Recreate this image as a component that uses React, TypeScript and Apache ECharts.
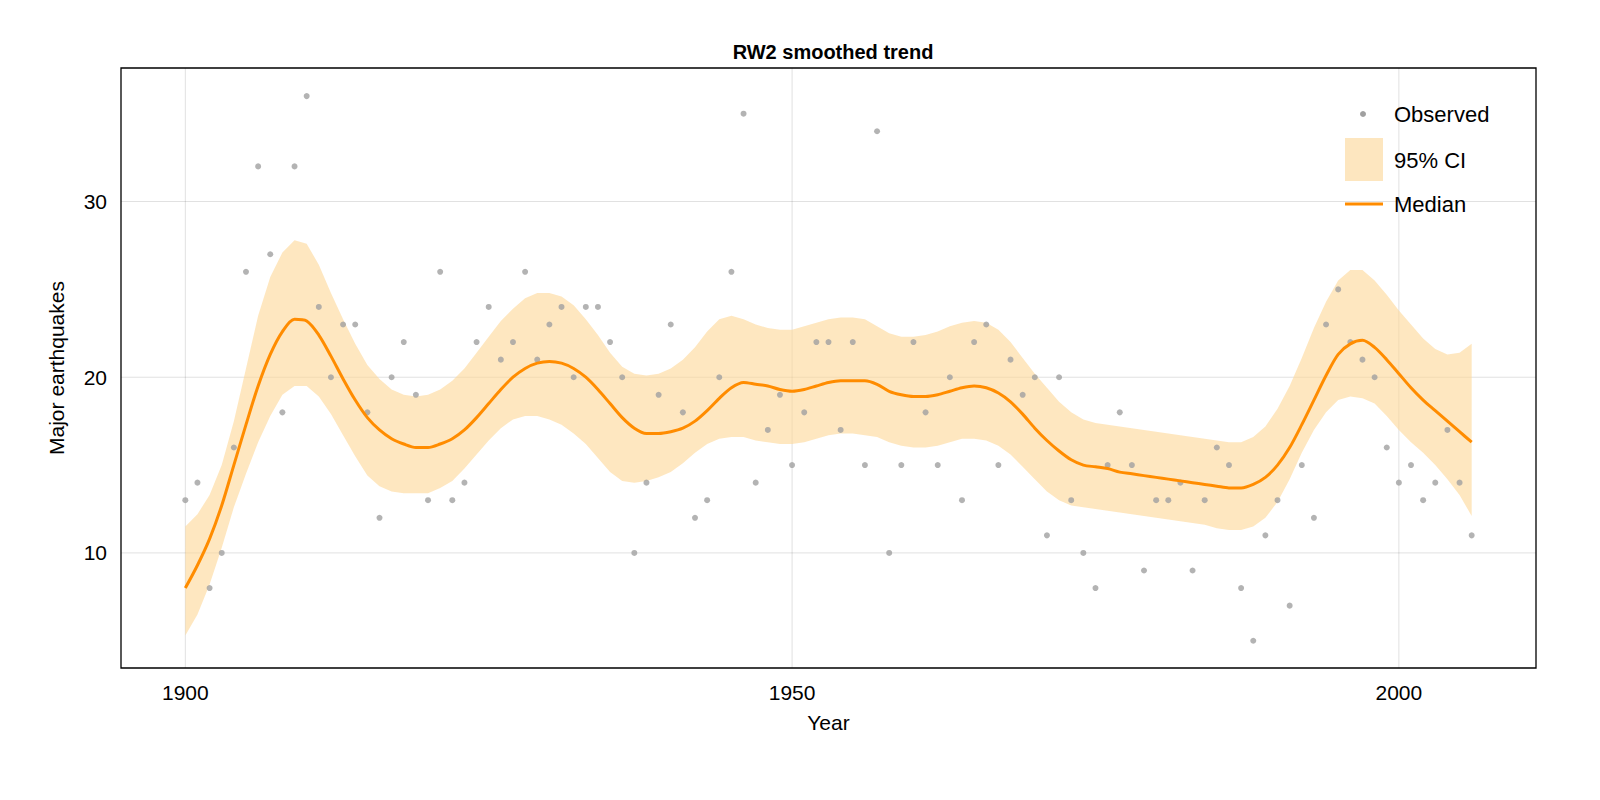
import React, { useEffect, useRef } from "react";
import * as echarts from "echarts";

const years: number[] = [];
for (let y = 1900; y <= 2006; y++) years.push(y);

const observed = [13,14,8,10,16,26,32,27,18,32,36,24,20,23,23,18,12,20,22,19,13,26,13,14,22,24,21,22,26,21,23,24,20,24,24,22,20,10,14,19,23,18,12,13,20,26,35,14,17,19,15,18,22,22,17,22,15,34,10,15,22,18,15,20,13,22,23,15,21,19,20,11,20,13,10,8,15,18,15,9,13,13,14,9,13,16,15,8,5,11,13,7,15,12,23,25,22,21,20,16,14,15,13,14,17,14,11];

const median = [8,9.3,10.8,12.7,15,17.3,19.5,21.3,22.6,23.3,23.2,22.4,21.2,19.9,18.7,17.7,17,16.5,16.2,16.0,16.0,16.2,16.5,17,17.7,18.5,19.3,20,20.5,20.8,20.9,20.8,20.5,20,19.3,18.5,17.7,17.1,16.8,16.8,16.9,17.1,17.5,18.1,18.8,19.4,19.7,19.6,19.5,19.3,19.2,19.3,19.5,19.7,19.8,19.8,19.8,19.6,19.2,19.0,18.9,18.9,19.0,19.2,19.4,19.5,19.4,19.1,18.6,17.9,17.1,16.4,15.8,15.3,15.0,14.9,14.8,14.6,14.5,14.4,14.3,14.2,14.1,14.0,13.9,13.8,13.7,13.7,13.9,14.3,15.0,16,17.3,18.7,20.1,21.3,21.9,22.1,21.7,21.0,20.2,19.4,18.7,18.1,17.5,16.9,16.3];

const upper = [11.5,12.2,13.3,15,17.5,20.5,23.5,25.7,27.1,27.8,27.6,26.4,24.8,23.3,21.9,20.7,19.9,19.3,19.0,18.9,19.0,19.3,19.8,20.5,21.4,22.3,23.2,23.9,24.5,24.8,24.8,24.6,24.1,23.3,22.4,21.4,20.6,20.2,20.1,20.2,20.5,21.0,21.7,22.6,23.3,23.5,23.3,23.0,22.8,22.7,22.7,22.9,23.1,23.3,23.4,23.4,23.3,22.9,22.5,22.3,22.3,22.4,22.6,22.9,23.1,23.2,23.1,22.7,22.0,21.1,20.2,19.4,18.6,18.0,17.6,17.4,17.3,17.2,17.1,17.0,16.9,16.8,16.7,16.6,16.5,16.4,16.3,16.3,16.6,17.2,18.2,19.5,21.1,22.8,24.3,25.5,26.1,26.1,25.5,24.7,23.8,23.0,22.2,21.6,21.3,21.4,21.9];

const lower = [5.3,6.5,8.2,10.3,12.6,14.5,16.3,17.8,19.0,19.5,19.5,18.9,17.9,16.7,15.5,14.4,13.8,13.5,13.4,13.4,13.4,13.7,14.1,14.8,15.6,16.4,17.1,17.6,17.8,17.8,17.6,17.3,16.8,16.2,15.4,14.6,14.1,14.0,14.1,14.3,14.6,15.1,15.7,16.2,16.5,16.6,16.6,16.4,16.3,16.2,16.2,16.3,16.5,16.7,16.8,16.8,16.7,16.6,16.3,16.1,16.0,16.0,16.1,16.3,16.5,16.5,16.4,16.1,15.6,14.9,14.2,13.5,13.0,12.7,12.6,12.5,12.4,12.3,12.2,12.1,12.0,11.9,11.8,11.7,11.6,11.4,11.3,11.3,11.5,12.0,12.9,14.2,15.7,17.0,18.0,18.7,18.9,18.8,18.5,17.8,17.0,16.3,15.7,15.0,14.2,13.3,12.1];

const xTicks = [1900, 1950, 2000];
const yTicks = [10, 20, 30];

const FONT = "Liberation Sans, Arial, sans-serif";

export default function App() {
  const ref = useRef<HTMLDivElement>(null);
  useEffect(() => {
    document.body.style.margin = "0";
    const chart = echarts.init(ref.current!, null, { renderer: "svg" });
    chart.setOption({
      animation: false,
      textStyle: { fontFamily: FONT },
      title: {
        text: "RW2 smoothed trend",
        left: 828, top: 37, textAlign: "center",
        textStyle: { fontSize: 20, fontWeight: "bold", color: "#000", fontFamily: FONT },
      },
      grid: { left: 121, right: 64, top: 68, bottom: 132, show: true, borderColor: "#000", borderWidth: 1.3 },
      xAxis: {
        type: "value", min: 1894.7, max: 2011.3,
        name: "Year", nameLocation: "middle", nameGap: 44,
        nameTextStyle: { fontSize: 21, color: "#000" },
        axisLabel: { fontSize: 21, color: "#000", margin: 14, customValues: xTicks, formatter: (v: number) => String(v) },
        axisTick: { show: false }, axisLine: { show: false },
        splitLine: { show: false },
      },
      yAxis: {
        type: "value", min: 3.45, max: 37.6,
        name: "Major earthquakes", nameLocation: "middle", nameGap: 54,
        nameTextStyle: { fontSize: 21, color: "#000" },
        axisLabel: { fontSize: 21, color: "#000", margin: 14, customValues: yTicks },
        axisTick: { show: false }, axisLine: { show: false },
        splitLine: { show: false },
      },
      graphic: [
        { type: "circle", shape: { cx: 1363, cy: 114, r: 3 }, style: { fill: "#a0a0a0" } },
        { type: "text", x: 1394, y: 114, style: { text: "Observed", fontSize: 22, fill: "#000", verticalAlign: "middle", fontFamily: FONT } },
        { type: "rect", shape: { x: 1345, y: 138, width: 38, height: 43 }, style: { fill: "#fde6bf" } },
        { type: "text", x: 1394, y: 160, style: { text: "95% CI", fontSize: 22, fill: "#000", verticalAlign: "middle", fontFamily: FONT } },
        { type: "line", shape: { x1: 1345, y1: 204, x2: 1383, y2: 204 }, style: { stroke: "#ff8c00", lineWidth: 3 } },
        { type: "text", x: 1394, y: 204, style: { text: "Median", fontSize: 22, fill: "#000", verticalAlign: "middle", fontFamily: FONT } },
      ],
      series: [
        {
          type: "custom",
          silent: true,
          data: [[0]],
          renderItem: (params: any, api: any) => {
            const pts: number[][] = [];
            years.forEach((y, i) => pts.push(api.coord([y, upper[i]])));
            for (let i = years.length - 1; i >= 0; i--) pts.push(api.coord([years[i], lower[i]]));
            const lines: any[] = [];
            const gl = (p1: number[], p2: number[]) => ({
              type: "line", shape: { x1: p1[0], y1: p1[1], x2: p2[0], y2: p2[1] },
              style: { stroke: "rgba(0,0,0,0.12)", lineWidth: 1 },
            });
            xTicks.forEach((x) => lines.push(gl(api.coord([x, 3.45]), api.coord([x, 37.6]))));
            yTicks.forEach((v) => lines.push(gl(api.coord([1894.7, v]), api.coord([2011.3, v]))));
            return {
              type: "group",
              children: [
                ...lines,
                { type: "polygon", shape: { points: pts }, style: { fill: "rgba(253,215,150,0.6)" } },
              ],
            };
          },
          z: 1,
        },
        {
          type: "scatter",
          data: years.map((y, i) => [y, observed[i]]),
          symbolSize: 6,
          itemStyle: { color: "#a0a0a0" },
          z: 2,
        },
        {
          type: "line",
          data: years.map((y, i) => [y, median[i]]),
          showSymbol: false,
          smooth: 0.3,
          lineStyle: { color: "#ff8c00", width: 3 },
          z: 3,
        },
      ],
    });
    return () => chart.dispose();
  }, []);
  return <div ref={ref} style={{ width: 1600, height: 800 }} />;
}
